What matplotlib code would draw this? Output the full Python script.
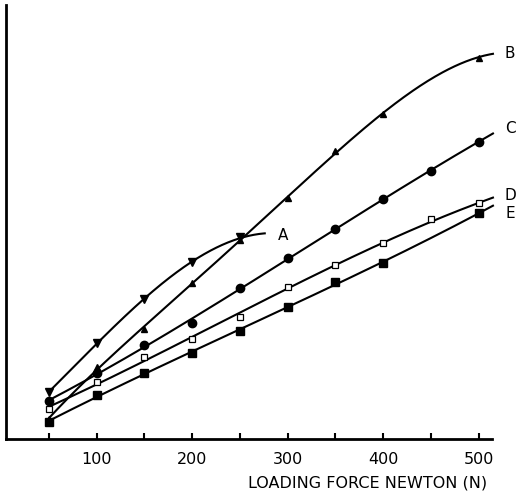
import numpy as np
import matplotlib
matplotlib.use("Agg")
import matplotlib.pyplot as plt

# Loading force (N)
x_A = [50, 100, 150, 200, 250]
y_A = [47, 96, 140, 177, 202]
end_A = (276, 205)

x_B = [50, 100, 150, 200, 250, 300, 350, 400, 500]
y_B = [20, 72, 110, 156, 199, 241, 288, 325, 381]
end_B = (515, 386)

x_C = [50, 100, 150, 200, 250, 300, 350, 400, 450, 500]
y_C = [38, 66, 94, 116, 151, 181, 210, 240, 268, 297]
end_C = (515, 306)

x_D = [50, 100, 150, 200, 250, 300, 350, 400, 450, 500]
y_D = [30, 57, 82, 100, 122, 152, 174, 196, 220, 236]
end_D = (515, 240)

x_E = [50, 100, 150, 200, 250, 300, 350, 400, 500]
y_E = [17, 44, 66, 86, 108, 132, 157, 176, 226]
end_E = (515, 233)

labels = ["A", "B", "C", "D", "E"]
xticks = [50, 100, 150, 200, 250, 300, 350, 400, 450, 500]
xticklabels = ["", "100", "", "200", "", "300", "", "400", "", "500"]
xlabel = "LOADING FORCE NEWTON (N)"

fig = plt.figure(figsize=(5.19, 4.95), dpi=100)
ax = fig.add_axes([6 / 519, 56 / 495, 486 / 519, 434 / 495])
ax.set_xlim(5, 514)
ax.set_ylim(0, 434)

series = [
    (x_A, y_A, end_A, 3, dict(marker="v", ms=6, mfc="black", mec="black")),
    (x_B, y_B, end_B, 4, dict(marker="^", ms=4, mfc="black", mec="black")),
    (x_C, y_C, end_C, 3, dict(marker="o", ms=6, mfc="black", mec="black")),
    (x_D, y_D, end_D, 3, dict(marker="s", ms=5, mfc="white", mec="black", mew=0.9)),
    (x_E, y_E, end_E, 3, dict(marker="s", ms=5.5, mfc="black", mec="black")),
]

for xs_, ys_, end, deg, mk in series:
    nx = np.array(list(xs_) + [end[0]], float)
    ny = np.array(list(ys_) + [end[1]], float)
    coef = np.polyfit(nx, ny, deg)
    xf = np.linspace(nx[0], nx[-1], 300)
    ax.plot(xf, np.polyval(coef, xf), color="black", lw=1.5, clip_on=False, zorder=2)
    ax.plot(xs_, ys_, linestyle="none", clip_on=False, zorder=3, **mk)

# curve labels
ax.text(295, 204, labels[0], fontsize=11, ha="center", va="center")
ax.text(533, 386, labels[1], fontsize=11, ha="center", va="center", clip_on=False)
ax.text(533, 311, labels[2], fontsize=11, ha="center", va="center", clip_on=False)
ax.text(533, 243, labels[3], fontsize=11, ha="center", va="center", clip_on=False)
ax.text(533, 226, labels[4], fontsize=11, ha="center", va="center", clip_on=False)

for s in ["top", "right"]:
    ax.spines[s].set_visible(False)
ax.spines["left"].set_linewidth(2)
ax.spines["bottom"].set_linewidth(2)
ax.set_yticks([])
ax.set_xticks(xticks)
ax.set_xticklabels(xticklabels, fontsize=11.5)
ax.tick_params(axis="x", direction="in", length=4, width=1.5, pad=9)

fig.text(487 / 519, 1 - 483 / 495, xlabel, ha="right", va="center", fontsize=11.5)

fig.savefig("out.png", dpi=100)
